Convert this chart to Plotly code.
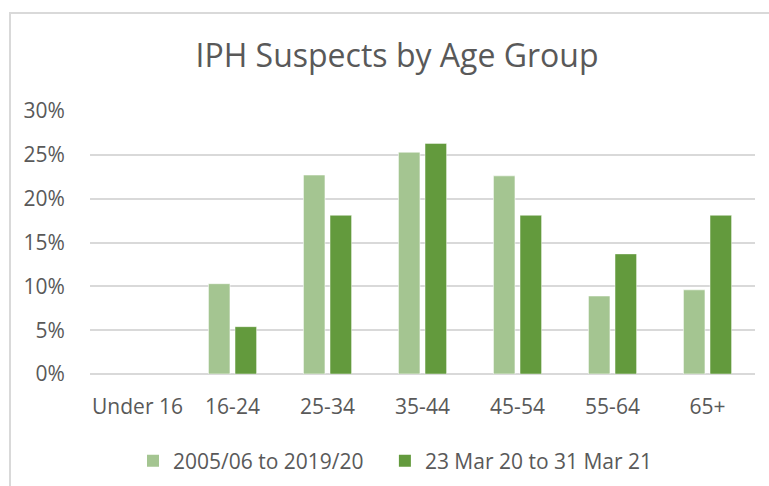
import plotly.graph_objects as go

categories = ["Under 16", "16-24", "25-34", "35-44", "45-54", "55-64", "65+"]
series_names = ["2005/06 to 2019/20", "23 Mar 20 to 31 Mar 21"]
long_term = [0.0, 10.3, 22.7, 25.3, 22.6, 8.9, 9.6]
recent = [0.0, 5.4, 18.1, 26.3, 18.1, 13.7, 18.1]
y_ticks = [0, 5, 10, 15, 20, 25, 30]
y_tick_labels = ["0%", "5%", "10%", "15%", "20%", "25%", "30%"]

light = "#A4C591"
dark = "#639A3D"
text_col = "#595959"
grid_col = "#D9D9D9"
font_family = "Open Sans"
legend_pad = "\u00a0" * 3


def outline_widths(vals):
    return [0 if v == 0 else 1 for v in vals]


fig = go.Figure()
fig.add_trace(go.Bar(x=categories, y=long_term, name=series_names[0] + legend_pad,
                     marker=dict(color=light, line=dict(color="rgba(255,255,255,0.55)",
                                                        width=outline_widths(long_term)))))
fig.add_trace(go.Bar(x=categories, y=recent, name=series_names[1],
                     marker=dict(color=dark, line=dict(color="rgba(255,255,255,0.45)",
                                                       width=outline_widths(recent)))))

fig.update_layout(
    width=769, height=486,
    margin=dict(l=90, r=14, t=111, b=112),
    paper_bgcolor="white", plot_bgcolor="white",
    font=dict(family=font_family, color=text_col, size=21),
    barmode="group", bargap=0.44, bargroupgap=0.19,
    title=dict(text="IPH Suspects by Age Group", font=dict(size=32, color=text_col, family=font_family),
               x=397/769, xref="container", xanchor="center",
               y=1-56/486, yref="container", yanchor="middle"),
    showlegend=True,
    legend=dict(orientation="h", xref="container", yref="container",
                x=133/769, xanchor="left", y=1-461/486, yanchor="middle",
                font=dict(size=21, color=text_col, family=font_family),
                traceorder="normal"),
    xaxis=dict(showgrid=False, showline=False, zeroline=False,
               ticks="outside", ticklen=14, tickcolor="rgba(0,0,0,0)",
               tickfont=dict(size=21, color=text_col)),
    yaxis=dict(range=[0, 30], tickvals=y_ticks, ticktext=y_tick_labels,
               showgrid=True, gridcolor=grid_col, gridwidth=1.5,
               zeroline=True, zerolinecolor=grid_col, zerolinewidth=1.5,
               showline=False, ticks="outside", ticklen=20, tickcolor="rgba(0,0,0,0)",
               tickfont=dict(size=21, color=text_col)),
    shapes=[dict(type="rect", xref="paper", yref="paper",
                 x0=(10-90)/665, x1=1.2, y0=-0.6, y1=(374-13)/263,
                 line=dict(color=grid_col, width=2), fillcolor="rgba(0,0,0,0)", layer="below")],
)

fig.write_html("out.html", config={"displayModeBar": False},
               post_script="document.body.style.margin='0';document.body.style.overflow='hidden';")
